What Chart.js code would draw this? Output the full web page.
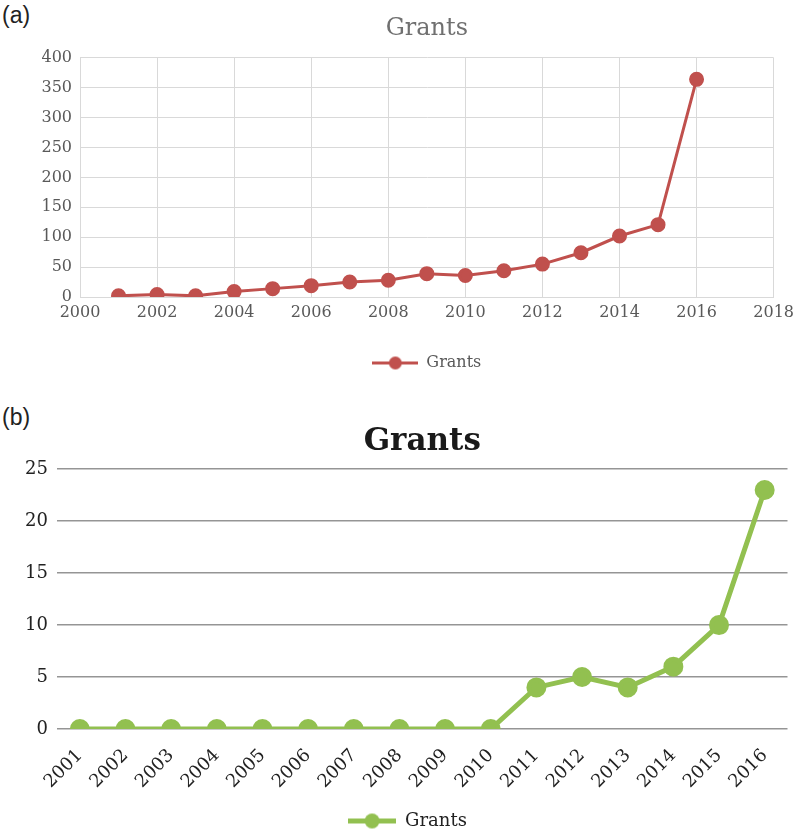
<!DOCTYPE html>
<html lang="en">
<head>
    <meta charset="UTF-8">
    <title>Grants</title>
    <script src="https://cdn.jsdelivr.net/npm/chart.js"></script>
    <style>
        body { margin: 0; width: 800px; height: 835px; overflow: hidden; background: #fff; position: relative; }
        canvas { position: absolute; left: 0; }
        .tag { position: absolute; left: 2px; font: 23px "Liberation Sans", Arial, sans-serif; line-height: 1; color: #222; }
    </style>
</head>
<body>
<div class="tag" style="top:4px">(a)</div>
<canvas id="chartA" width="800" height="381" style="top:0"></canvas>
<div class="tag" style="top:406px">(b)</div>
<canvas id="chartB" width="800" height="445" style="top:395px"></canvas>
<script>
    // (a) grants per year
    const yearsA = [2001, 2002, 2003, 2004, 2005, 2006, 2007, 2008, 2009, 2010, 2011, 2012, 2013, 2014, 2015, 2016];
    const grantsA = [2, 4, 2, 9, 14, 19, 25, 28, 39, 36, 44, 55, 74, 102, 121, 364];

    // (b) grants per year, bottom panel
    const yearsB = ['2001', '2002', '2003', '2004', '2005', '2006', '2007', '2008', '2009', '2010', '2011', '2012', '2013', '2014', '2015', '2016'];
    const grantsB = [0, 0, 0, 0, 0, 0, 0, 0, 0, 0, 4, 5, 4, 6, 10, 23];

    const seriesName = 'Grants';
    const red = '#c0504d';
    const green = '#92c050';
    const serif = '"DejaVu Serif", "Liberation Serif", serif';

    // legend sample: a short line with a dot in the middle
    function legendIcon(color, w, lw, r) {
        const c = document.createElement('canvas');
        c.width = w;
        c.height = Math.ceil(2 * r + 2);
        const g = c.getContext('2d');
        g.strokeStyle = color;
        g.lineWidth = lw;
        g.beginPath();
        g.moveTo(0, c.height / 2);
        g.lineTo(w, c.height / 2);
        g.stroke();
        g.fillStyle = color;
        g.beginPath();
        g.arc(w / 2, c.height / 2, r, 0, Math.PI * 2);
        g.fill();
        return c;
    }

    new Chart(document.getElementById('chartA'), {
        type: 'line',
        data: {
            datasets: [{
                label: seriesName,
                data: yearsA.map((y, i) => ({ x: y, y: grantsA[i] })),
                borderColor: red,
                backgroundColor: red,
                borderWidth: 3,
                pointRadius: 6,
                pointHoverRadius: 6,
                tension: 0
            }]
        },
        options: {
            responsive: false,
            animation: false,
            layout: { padding: { left: 0, right: 20, top: 0, bottom: 0 } },
            plugins: {
                title: {
                    display: true,
                    text: seriesName,
                    fullSize: false,
                    color: '#707070',
                    font: { family: serif, size: 24, weight: 'normal' },
                    padding: { top: 14, bottom: 15 }
                },
                legend: {
                    position: 'bottom',
                    fullSize: false,
                    labels: {
                        usePointStyle: true,
                        pointStyle: legendIcon(red, 46, 3, 6.5),
                        pointStyleWidth: 46,
                        color: '#595959',
                        font: { family: serif, size: 16 },
                        padding: 10
                    }
                },
                tooltip: { enabled: false }
            },
            scales: {
                x: {
                    type: 'linear',
                    min: 2000,
                    max: 2018,
                    ticks: { stepSize: 2, color: '#595959', font: { family: serif, size: 16 }, padding: 6,
                        callback: v => String(v) },
                    grid: { color: '#d9d9d9', drawTicks: false },
                    border: { color: '#d9d9d9' },
                    afterFit: s => { s.height = 48; }
                },
                y: {
                    min: 0,
                    max: 400,
                    ticks: { stepSize: 50, color: '#595959', font: { family: serif, size: 16 }, padding: 8 },
                    grid: { color: '#d9d9d9', drawTicks: false },
                    border: { color: '#d9d9d9' },
                    afterFit: s => { s.width = 80; }
                }
            }
        }
    });

    new Chart(document.getElementById('chartB'), {
        type: 'line',
        data: {
            labels: yearsB,
            datasets: [{
                label: seriesName,
                data: grantsB,
                borderColor: green,
                backgroundColor: green,
                borderWidth: 5,
                pointRadius: 7.5,
                pointHoverRadius: 7.5,
                tension: 0
            }]
        },
        options: {
            responsive: false,
            animation: false,
            layout: { padding: { left: 23, right: 8, top: 0, bottom: 0 } },
            plugins: {
                title: {
                    display: true,
                    text: seriesName,
                    fullSize: false,
                    color: '#1a1a1a',
                    font: { family: serif, size: 31, weight: 'bold' },
                    padding: { top: 28, bottom: 9 }
                },
                legend: {
                    position: 'bottom',
                    labels: {
                        usePointStyle: true,
                        pointStyle: legendIcon(green, 48, 5, 7.5),
                        pointStyleWidth: 48,
                        color: '#222',
                        font: { family: serif, size: 18 },
                        padding: 10
                    }
                },
                tooltip: { enabled: false }
            },
            scales: {
                x: {
                    offset: true,
                    ticks: { color: '#222', font: { family: serif, size: 18 }, minRotation: 45, maxRotation: 45,
                        autoSkip: false, padding: 8 },
                    grid: { display: false },
                    border: { display: false },
                    afterFit: s => { s.height = 73; }
                },
                y: {
                    min: 0,
                    max: 25,
                    ticks: { stepSize: 5, color: '#222', font: { family: serif, size: 18 }, padding: 9 },
                    grid: { color: '#959595', lineWidth: 1.5, drawTicks: false },
                    border: { display: false },
                    afterFit: s => { s.width = 34; }
                }
            }
        }
    });
</script>
</body>
</html>
